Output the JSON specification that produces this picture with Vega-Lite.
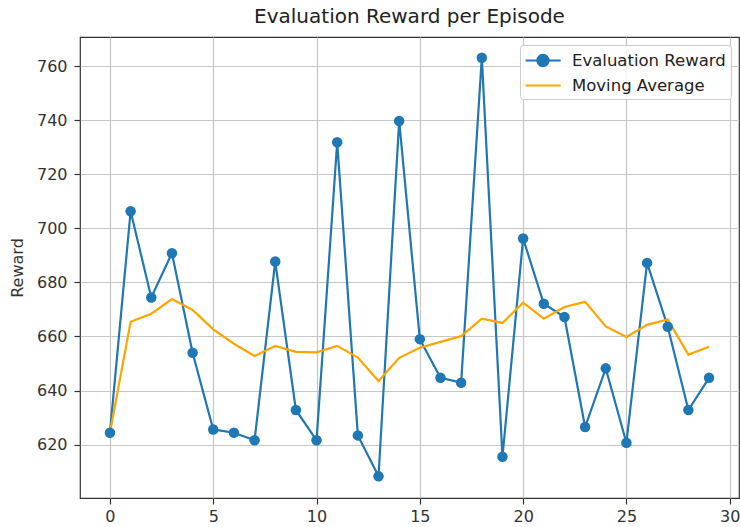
{
  "$schema": "https://vega.github.io/schema/vega-lite/v6.json",
  "width": 659,
  "height": 461,
  "autosize": {"type": "none"},
  "padding": {"left": 80, "top": 37, "right": 1, "bottom": 29},
  "background": "white",
  "title": {"text": "Evaluation Reward per Episode", "fontSize": 20, "fontWeight": "normal", "color": "#222222", "anchor": "middle", "offset": 10},
  "data": {"values": [
    {"episode": 0, "series": "Evaluation Reward", "value": 624.4},
    {"episode": 1, "series": "Evaluation Reward", "value": 706.3},
    {"episode": 2, "series": "Evaluation Reward", "value": 674.4},
    {"episode": 3, "series": "Evaluation Reward", "value": 690.8},
    {"episode": 4, "series": "Evaluation Reward", "value": 654.0},
    {"episode": 5, "series": "Evaluation Reward", "value": 625.6},
    {"episode": 6, "series": "Evaluation Reward", "value": 624.4},
    {"episode": 7, "series": "Evaluation Reward", "value": 621.6},
    {"episode": 8, "series": "Evaluation Reward", "value": 687.7},
    {"episode": 9, "series": "Evaluation Reward", "value": 632.8},
    {"episode": 10, "series": "Evaluation Reward", "value": 621.6},
    {"episode": 11, "series": "Evaluation Reward", "value": 731.8},
    {"episode": 12, "series": "Evaluation Reward", "value": 623.4},
    {"episode": 13, "series": "Evaluation Reward", "value": 608.3},
    {"episode": 14, "series": "Evaluation Reward", "value": 739.7},
    {"episode": 15, "series": "Evaluation Reward", "value": 659.0},
    {"episode": 16, "series": "Evaluation Reward", "value": 644.7},
    {"episode": 17, "series": "Evaluation Reward", "value": 642.9},
    {"episode": 18, "series": "Evaluation Reward", "value": 763.1},
    {"episode": 19, "series": "Evaluation Reward", "value": 615.5},
    {"episode": 20, "series": "Evaluation Reward", "value": 696.2},
    {"episode": 21, "series": "Evaluation Reward", "value": 672.1},
    {"episode": 22, "series": "Evaluation Reward", "value": 667.2},
    {"episode": 23, "series": "Evaluation Reward", "value": 626.5},
    {"episode": 24, "series": "Evaluation Reward", "value": 648.2},
    {"episode": 25, "series": "Evaluation Reward", "value": 620.7},
    {"episode": 26, "series": "Evaluation Reward", "value": 687.2},
    {"episode": 27, "series": "Evaluation Reward", "value": 663.6},
    {"episode": 28, "series": "Evaluation Reward", "value": 632.8},
    {"episode": 29, "series": "Evaluation Reward", "value": 644.7},
    {"episode": 0, "series": "Moving Average", "value": 624.4},
    {"episode": 1, "series": "Moving Average", "value": 665.4},
    {"episode": 2, "series": "Moving Average", "value": 668.4},
    {"episode": 3, "series": "Moving Average", "value": 673.8},
    {"episode": 4, "series": "Moving Average", "value": 669.8},
    {"episode": 5, "series": "Moving Average", "value": 662.6},
    {"episode": 6, "series": "Moving Average", "value": 657.3},
    {"episode": 7, "series": "Moving Average", "value": 652.8},
    {"episode": 8, "series": "Moving Average", "value": 656.5},
    {"episode": 9, "series": "Moving Average", "value": 654.3},
    {"episode": 10, "series": "Moving Average", "value": 654.1},
    {"episode": 11, "series": "Moving Average", "value": 656.5},
    {"episode": 12, "series": "Moving Average", "value": 652.2},
    {"episode": 13, "series": "Moving Average", "value": 643.5},
    {"episode": 14, "series": "Moving Average", "value": 652.1},
    {"episode": 15, "series": "Moving Average", "value": 655.8},
    {"episode": 16, "series": "Moving Average", "value": 658.0},
    {"episode": 17, "series": "Moving Average", "value": 660.1},
    {"episode": 18, "series": "Moving Average", "value": 666.6},
    {"episode": 19, "series": "Moving Average", "value": 665.0},
    {"episode": 20, "series": "Moving Average", "value": 672.5},
    {"episode": 21, "series": "Moving Average", "value": 666.6},
    {"episode": 22, "series": "Moving Average", "value": 670.9},
    {"episode": 23, "series": "Moving Average", "value": 672.8},
    {"episode": 24, "series": "Moving Average", "value": 663.7},
    {"episode": 25, "series": "Moving Average", "value": 659.8},
    {"episode": 26, "series": "Moving Average", "value": 664.3},
    {"episode": 27, "series": "Moving Average", "value": 666.3},
    {"episode": 28, "series": "Moving Average", "value": 653.3},
    {"episode": 29, "series": "Moving Average", "value": 656.2}
  ]},
  "encoding": {
    "x": {"field": "episode", "type": "quantitative",
      "scale": {"domain": [-1.45, 30.45], "nice": false, "zero": false},
      "axis": {"values": [0, 5, 10, 15, 20, 25, 30], "title": "Episode", "titlePadding": 6, "labelPadding": 4}},
    "y": {"field": "value", "type": "quantitative",
      "scale": {"domain": [600.25, 770.75], "nice": false, "zero": false},
      "axis": {"values": [620, 640, 660, 680, 700, 720, 740, 760], "title": "Reward", "titlePadding": 11}}
  },
  "layer": [
    {
      "mark": {"type": "line", "strokeWidth": 2.2},
      "encoding": {
        "color": {"field": "series", "type": "nominal",
          "scale": {"domain": ["Evaluation Reward", "Moving Average"], "range": ["#1f77b4", "#ffa500"]},
          "legend": {
            "title": null,
            "orient": "top-right",
            "offset": 8,
            "encode": {
              "symbols": {"update": {
                "shape": {"signal": "datum.value === 'Evaluation Reward' ? 'M-1.1,0L2.8,0M1.45,0A0.62,0.62,0,1,1,0.21,0A0.62,0.62,0,1,1,1.45,0Z' : 'M-1.1,0L2.8,0'"},
                "fill": {"signal": "datum.value === 'Evaluation Reward' ? '#1f77b4' : 'transparent'"},
                "strokeWidth": {"value": 2.2}
              }}
            }
          }
        }
      }
    },
    {
      "transform": [{"filter": "datum.series === 'Evaluation Reward'"}],
      "mark": {"type": "point", "filled": true, "size": 110, "opacity": 1, "color": "#1f77b4"}
    }
  ],
  "config": {
    "font": "DejaVu Sans",
    "view": {"stroke": "#333333", "strokeWidth": 1.2},
    "axis": {
      "domain": false,
      "grid": true,
      "gridColor": "#c6c6c6",
      "gridWidth": 1.2,
      "tickColor": "#333333",
      "tickSize": 6,
      "tickWidth": 1.2,
      "labelPadding": 7,
      "labelFontSize": 16,
      "labelColor": "#333333",
      "titleFontSize": 16,
      "titleFontWeight": "normal",
      "titleColor": "#333333"
    },
    "legend": {
      "fillColor": "rgba(255,255,255,0.85)",
      "strokeColor": "#cccccc",
      "cornerRadius": 3,
      "padding": 5,
      "labelFontSize": 16.5,
      "labelColor": "#222222",
      "symbolSize": 324,
      "symbolStrokeWidth": 2.2,
      "labelOffset": 26,
      "rowPadding": 4
    }
  }
}
